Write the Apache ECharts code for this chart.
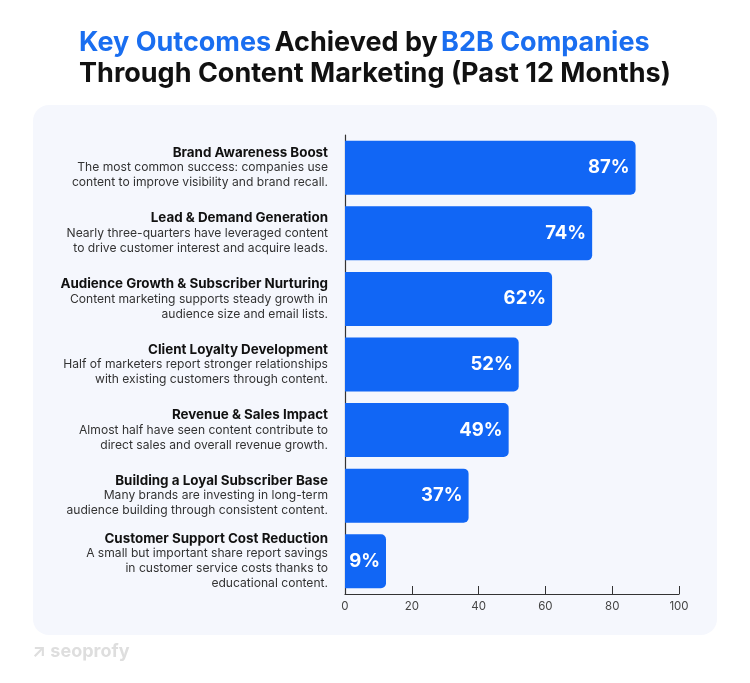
<!DOCTYPE html>
<html><head><meta charset="utf-8">
<script src="https://cdn.jsdelivr.net/npm/echarts@6/dist/echarts.min.js"></script>
<style>html,body{margin:0;padding:0;background:#fff}#c{width:750px;height:683px}</style>
</head><body><div id="c"></div>
<script>
const titles = [
  "Brand Awareness Boost",
  "Lead & Demand Generation",
  "Audience Growth & Subscriber Nurturing",
  "Client Loyalty Development",
  "Revenue & Sales Impact",
  "Building a Loyal Subscriber Base",
  "Customer Support Cost Reduction"
];
const descriptions = [
  "The most common success: companies use\ncontent to improve visibility and brand recall.",
  "Nearly three-quarters have leveraged content\nto drive customer interest and acquire leads.",
  "Content marketing supports steady growth in\naudience size and email lists.",
  "Half of marketers report stronger relationships\nwith existing customers through content.",
  "Almost half have seen content contribute to\ndirect sales and overall revenue growth.",
  "Many brands are investing in long-term\naudience building through consistent content.",
  "A small but important share report savings\nin customer service costs thanks to\neducational content."
];
const values = [87, 74, 62, 52, 49, 37, 9];
const xTicks = [0, 20, 40, 60, 80, 100];

const FONT = "Inter, 'Noto Sans', sans-serif";
const cats = titles.map((t, i) => t);
const chart = echarts.init(document.getElementById('c'), null, {renderer: 'canvas'});
chart.setOption({
  backgroundColor: '#ffffff',
  animation: false,
  graphic: [
    {type: 'rect', left: 33, top: 105, shape: {width: 684, height: 530, r: 16}, style: {fill: '#f5f7fd'}, z: -10},
    {type: 'text', left: 'center', top: 29, style: {
      rich: {
        b: {fontFamily: FONT, fontSize: 27, fontWeight: 'bold', fill: '#1a6ef0', lineHeight: 31},
        k: {fontFamily: FONT, fontSize: 27, fontWeight: 'bold', fill: '#111111', lineHeight: 31}
      },
      text: '{b|Key Outcomes} {k|Achieved by} {b|B2B Companies}\n{k|Through Content Marketing (Past 12 Months)}',
      align: 'center'
    }},
    {type: 'text', left: 32, top: 643, style: {text: '↗ seoprofy', fontFamily: FONT, fontSize: 18, fontWeight: 'bold', fill: '#dedede'}}
  ],
  grid: {left: 345, right: 71, top: 135, bottom: 89, containLabel: false},
  xAxis: {
    type: 'value', min: 0, max: 100, interval: 20,
    axisLine: {show: true, lineStyle: {color: '#333', width: 1.2}},
    axisTick: {show: true, inside: true, length: 8, lineStyle: {color: '#333'}},
    splitLine: {show: false},
    axisLabel: {color: '#444', fontFamily: FONT, fontSize: 11.5, margin: 7,
      formatter: v => xTicks.includes(v) ? String(v) : ''}
  },
  yAxis: {
    type: 'category', data: cats, inverse: true,
    axisLine: {show: true, lineStyle: {color: '#333', width: 1.2}},
    axisTick: {show: false},
    axisLabel: {
      margin: 17, align: 'right',
      formatter: (v, i) => '{t|' + titles[i] + '}\n' + descriptions[i].split('\n').map(s => '{d|' + s + '}').join('\n'),
      rich: {
        t: {fontFamily: FONT, fontSize: 13.4, fontWeight: 'bold', color: '#111', lineHeight: 15, align: 'right'},
        d: {fontFamily: FONT, fontSize: 12.1, color: '#333', lineHeight: 15, align: 'right'}
      }
    }
  },
  series: [{
    type: 'bar', data: values, barWidth: 54, barMinHeight: 41,
    itemStyle: {color: '#1166f5', borderRadius: [0, 5, 5, 0]},
    label: {show: true, position: 'insideRight', distance: 6, formatter: '{c}%',
      color: '#fff', fontFamily: FONT, fontSize: 18.5, fontWeight: 'bold'}
  }]
});
</script></body></html>
